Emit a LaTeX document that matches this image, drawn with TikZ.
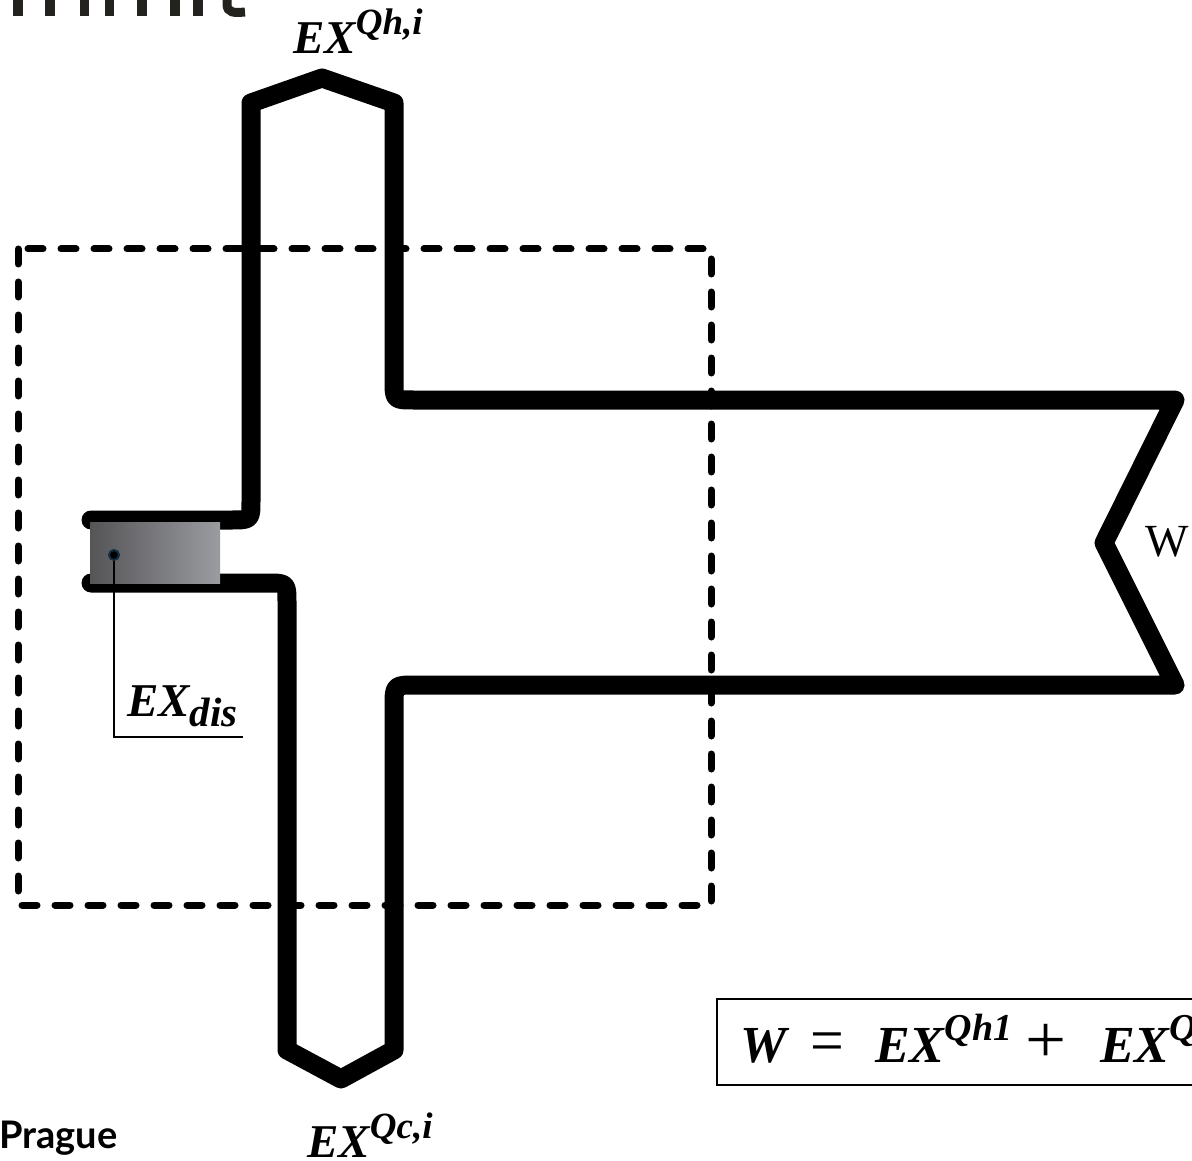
\documentclass[tikz,border=0pt]{standalone}
\usepackage{fontspec}
\usepackage{graphicx}
\setmainfont{Liberation Serif}
\newfontfamily\pragfont{Lato}
\definecolor{fragc}{RGB}{35,34,30}
\definecolor{boxdark}{RGB}{85,85,88}
\definecolor{boxlight}{RGB}{155,156,160}
\definecolor{dotring}{RGB}{20,45,65}
% raised/lowered smaller text: #1 shift, #2 size, #3 text
\newcommand\shiftedtxt[3]{\raisebox{#1}{\fontsize{#2}{#2}\selectfont #3}}
\tikzset{
  pipe/.style={line width=19pt, line join=round, line cap=round},
  borderline/.style={line width=7pt, dash pattern=on 15pt off 18pt, line cap=round},
  frag/.style={fill=fragc},
  lbl/.style={inner sep=0pt, anchor=base west},
  mathlbl/.style={lbl, font=\fontsize{47}{50}\selectfont\bfseries\itshape},
}
\begin{document}
\begin{tikzpicture}[x=1pt,y=-1pt]
\useasboundingbox (0,0) rectangle (1192,1161);
\clip (0,0) rectangle (1192,1161);
\fill[white] (0,0) rectangle (1192,1161);

% fragments of cut-off heading text
\foreach \a/\b in {13/23,45/55,80/89,105/114,137/147,170/180,193/203}
  \fill[frag] (\a,-5) rectangle (\b,16);
\draw[fragc, line width=9pt] (227,-5) -- (227,4) .. controls (227,13) and (234,13) .. (245,12);

% pipe
\draw[pipe] (91,520) -- (231,520) .. controls (251,520) .. (251,500)
  -- (251,103) -- (322,78) -- (394,103)
  -- (394,380) .. controls (394,400) .. (414,400)
  -- (1175,400) -- (1104,543) -- (1175,685)
  -- (416,685) .. controls (394,685) .. (394,707)
  -- (394,1050) -- (341,1079) -- (287,1050)
  -- (287,603) .. controls (287,583) .. (267,583) -- (91,583);

% dissipation box
\node[inner sep=0pt, minimum width=130pt, minimum height=61pt, anchor=north west,
      left color=boxdark, right color=boxlight] (disbox) at (90,522) {};

% dashed control volume
\draw[borderline] (18,249) rectangle (711,905);

% EX_dis leader
\coordinate (disend) at (243,737);
\node[circle, fill=black, draw=dotring, line width=2pt, minimum size=10pt, inner sep=0pt] (dot) at (114,555) {};
\draw[line width=2.5pt] (dot.south) |- (disend);
\node[mathlbl] (exdis) at (127,716) {EX\shiftedtxt{-10pt}{41}{dis}};

% labels
\node[mathlbl] (exqh) at (293,54) {EX\shiftedtxt{19pt}{37}{Qh,i}};
\node[mathlbl] (exqc) at (307,1157) {EX\shiftedtxt{19pt}{37}{Qc,i}};
\node[lbl, font=\fontsize{46}{48}\selectfont] (w) at (1145,556) {W};
\node[lbl, font=\pragfont\bfseries\fontsize{38}{40}\selectfont] (prague) at (-1,1148) {Prague};

% formula box
\draw[line width=1.5pt] (717,999) rectangle (1230,1085);
\node[lbl, font=\fontsize{52}{56}\selectfont] (formula) at (740,1062)
  {\makebox[70pt][l]{\textbf{\textit{W}}}%
   \makebox[65pt][l]{\scalebox{1.15}[1.25]{=}}%
   \makebox[150pt][l]{\textbf{\textit{EX\shiftedtxt{22pt}{38}{Qh1}}}}%
   \makebox[75pt][l]{\scalebox{1.4}[1.3]{+}}%
   \textbf{\textit{EX\shiftedtxt{22pt}{38}{Qc1}}}};
\end{tikzpicture}
\end{document}
